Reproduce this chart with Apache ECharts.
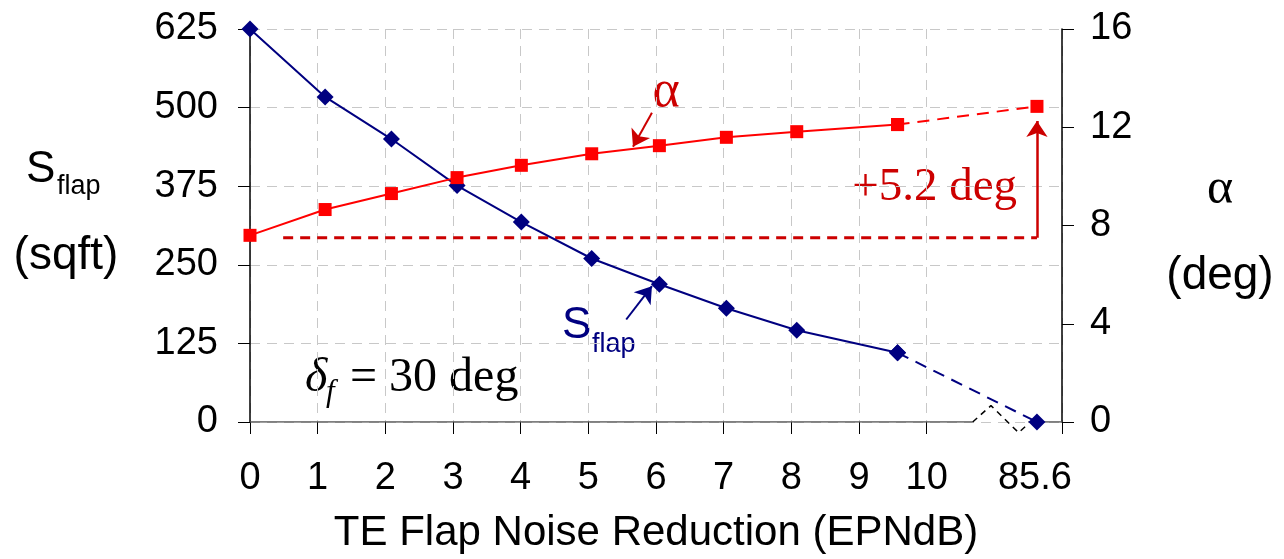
<!DOCTYPE html>
<html>
<head>
<meta charset="utf-8">
<script src="https://cdn.jsdelivr.net/npm/echarts@6/dist/echarts.min.js"></script>
<style>
  html, body { margin: 0; background: #fff; }
  #chart { width: 1284px; height: 559px; }
</style>
</head>
<body>
<div id="chart"></div>
<script>
  // x positions (EPNdB), last point is the 85.6 case behind the axis break
  var xVals = [0, 1.11, 2.09, 3.06, 4.01, 5.05, 6.05, 7.04, 8.08, 9.57, 11.63];
  var sFlap = [625, 517, 450, 376, 318, 260, 219, 181, 146, 110, 0];
  var alpha = [7.6, 8.65, 9.3, 9.95, 10.45, 10.92, 11.25, 11.59, 11.82, 12.11, 12.85];
  var xTickLabels = ['0', '1', '2', '3', '4', '5', '6', '7', '8', '9', '10', '85.6'];
  var xLabelPos = [0, 1, 2, 3, 4, 5, 6, 7, 8, 9, 10, 11.6];
  var alphaBase = 7.5;        // dashed reference level (deg)
  var alphaBaseStart = 0.49;
  var alphaArrowTop = 12.25;
  // axis break zigzag (x, sqft)
  var breakZig = [[10.68, 0], [10.95, 26], [11.36, -17], [11.48, -5]];
  var axisPieces = [[[0, 0], [10.68, 0]], [[11.5, 0], [12, 0]]];
  // callout arrows
  var alphaCallout = [[5.94, 12.59], [5.66, 11.21]];
  var sFlapCallout = [[5.56, 163], [5.94, 216]];

  var NAVY = '#000080';
  var RED = '#ff0000';
  var DARKRED = '#cc0000';
  var SANS = '"Liberation Sans", Arial, sans-serif';
  var SERIF = '"Liberation Serif", "Times New Roman", serif';

  function pts(ys, from, to) {
    var out = [];
    for (var i = from; i <= to; i++) out.push([xVals[i], ys[i]]);
    return out;
  }

  var chart = echarts.init(document.getElementById('chart'));

  var series = [];
  // axis line with break
  axisPieces.forEach(function (p) {
    series.push({
      type: 'line', data: p, symbol: 'none', silent: true,
      lineStyle: { color: '#555', width: 1.5 }, z: 1
    });
  });
  series.push({
    type: 'line', data: breakZig, symbol: 'none', clip: false, silent: true,
    lineStyle: { color: '#000', width: 1.5, type: [6, 5] }, z: 1
  });
  // alpha reference dashed + arrow
  series.push({
    type: 'line', yAxisIndex: 1, symbol: 'none', silent: true,
    data: [[alphaBaseStart, alphaBase], [xVals[10], alphaBase]],
    lineStyle: { color: DARKRED, width: 3, type: [10, 7] }, z: 2
  });
  series.push({
    type: 'lines', coordinateSystem: 'cartesian2d', xAxisIndex: 0, yAxisIndex: 1,
    symbol: ['none', 'arrow'], symbolSize: [0, 16], silent: true,
    lineStyle: { color: DARKRED, width: 2.5, opacity: 1 },
    data: [{ coords: [[xVals[10], alphaBase], [xVals[10], alphaArrowTop]] }], z: 3
  });
  series.push({
    type: 'lines', coordinateSystem: 'cartesian2d', xAxisIndex: 0, yAxisIndex: 1,
    symbol: ['none', 'arrow'], symbolSize: [0, 16], silent: true,
    lineStyle: { color: DARKRED, width: 2, opacity: 1 },
    data: [{ coords: alphaCallout }], z: 3
  });
  series.push({
    type: 'lines', coordinateSystem: 'cartesian2d', xAxisIndex: 0, yAxisIndex: 0,
    symbol: ['none', 'arrow'], symbolSize: [0, 16], silent: true,
    lineStyle: { color: NAVY, width: 2, opacity: 1 },
    data: [{ coords: sFlapCallout }], z: 3
  });
  // S_flap
  series.push({
    name: 'Sflap', type: 'line', data: pts(sFlap, 0, 9),
    symbol: 'diamond', symbolSize: 17, showSymbol: true,
    itemStyle: { color: NAVY }, lineStyle: { color: NAVY, width: 2 }, z: 5
  });
  series.push({
    type: 'line', data: pts(sFlap, 9, 10),
    symbol: 'diamond', symbolSize: 17,
    itemStyle: { color: NAVY }, lineStyle: { color: NAVY, width: 2, type: [12, 8] }, z: 5
  });
  // alpha
  series.push({
    name: 'alpha', type: 'line', yAxisIndex: 1, data: pts(alpha, 0, 9),
    symbol: 'rect', symbolSize: 13,
    itemStyle: { color: RED }, lineStyle: { color: RED, width: 2 }, z: 6
  });
  series.push({
    type: 'line', yAxisIndex: 1, data: pts(alpha, 9, 10),
    symbol: 'rect', symbolSize: 13,
    itemStyle: { color: RED }, lineStyle: { color: RED, width: 2, type: [12, 8] }, z: 6
  });

  chart.setOption({
    backgroundColor: '#fff',
    animation: false,
    grid: { left: 250, right: 222, top: 29, bottom: 136 },
    xAxis: {
      type: 'value', min: 0, max: 12, interval: 1,
      name: 'TE Flap Noise Reduction (EPNdB)', nameLocation: 'middle', nameGap: 90,
      nameTextStyle: { fontFamily: SANS, fontSize: 42, color: '#000' },
      axisLine: { show: false },
      axisTick: { show: true, length: 12, inside: false,
        customValues: [0, 1, 2, 3, 4, 5, 6, 7, 8, 9, 10, 12],
        lineStyle: { color: '#000', width: 1 } },
      axisLabel: {
        customValues: xLabelPos, margin: 38,
        fontFamily: SANS, fontSize: 38, color: '#000',
        formatter: function (v) {
          var i = xLabelPos.indexOf(v);
          return i >= 0 ? xTickLabels[i] : '';
        }
      },
      splitLine: { show: true, lineStyle: { color: '#c8c8c8', width: 1, type: [10, 7] } }
    },
    yAxis: [{
      type: 'value', min: 0, max: 625, interval: 125,
      axisLine: { show: true, lineStyle: { color: '#000', width: 1.5 } },
      axisTick: { show: true, length: 12, lineStyle: { color: '#000', width: 1 } },
      axisLabel: { margin: 32, fontFamily: SANS, fontSize: 38, color: '#000' },
      splitLine: { show: true, lineStyle: { color: '#c8c8c8', width: 1, type: [10, 7] } }
    }, {
      type: 'value', min: 0, max: 16, interval: 4, position: 'right',
      axisLine: { show: true, lineStyle: { color: '#000', width: 1.5 } },
      axisTick: { show: true, length: 12, lineStyle: { color: '#000', width: 1 } },
      axisLabel: { margin: 28, fontFamily: SANS, fontSize: 38, color: '#000' },
      splitLine: { show: false }
    }],
    series: series,
    graphic: [
      // left axis name
      { type: 'text', x: 26, y: 170, style: { text: 'S', font: '44px ' + SANS, fill: '#000', textAlign: 'left', textVerticalAlign: 'middle' } },
      { type: 'text', x: 57, y: 187, style: { text: 'flap', font: '27px ' + SANS, fill: '#000', textAlign: 'left', textVerticalAlign: 'middle' } },
      { type: 'text', x: 66, y: 256, style: { text: '(sqft)', font: '46px ' + SANS, fill: '#000', textAlign: 'center', textVerticalAlign: 'middle' } },
      // right axis name
      { type: 'text', x: 1220, y: 190, style: { text: 'α', font: '50px ' + SERIF, fill: '#000', textAlign: 'center', textVerticalAlign: 'middle' } },
      { type: 'text', x: 1220, y: 276, style: { text: '(deg)', font: '46px ' + SANS, fill: '#000', textAlign: 'center', textVerticalAlign: 'middle' } },
      // series callout labels
      { type: 'text', x: 666, y: 92, style: { text: 'α', font: '52px ' + SERIF, fill: DARKRED, textAlign: 'center', textVerticalAlign: 'middle' } },
      { type: 'text', x: 562, y: 326, style: { text: 'S', font: '44px ' + SANS, fill: NAVY, textAlign: 'left', textVerticalAlign: 'middle' } },
      { type: 'text', x: 592, y: 345, style: { text: 'flap', font: '27px ' + SANS, fill: NAVY, textAlign: 'left', textVerticalAlign: 'middle' } },
      { type: 'text', x: 1017, y: 188, style: { text: '+5.2 deg', font: '47px ' + SERIF, fill: DARKRED, textAlign: 'right', textVerticalAlign: 'middle' } },
      // flap deflection note
      { type: 'text', x: 305, y: 378, style: { text: 'δ', font: 'italic 48px ' + SERIF, fill: '#000', textAlign: 'left', textVerticalAlign: 'middle' } },
      { type: 'text', x: 326, y: 393, style: { text: 'f', font: 'italic 31px ' + SERIF, fill: '#000', textAlign: 'left', textVerticalAlign: 'middle' } },
      { type: 'text', x: 350, y: 378, style: { text: '= 30 deg', font: '48px ' + SERIF, fill: '#000', textAlign: 'left', textVerticalAlign: 'middle' } }
    ]
  });
</script>
</body>
</html>
